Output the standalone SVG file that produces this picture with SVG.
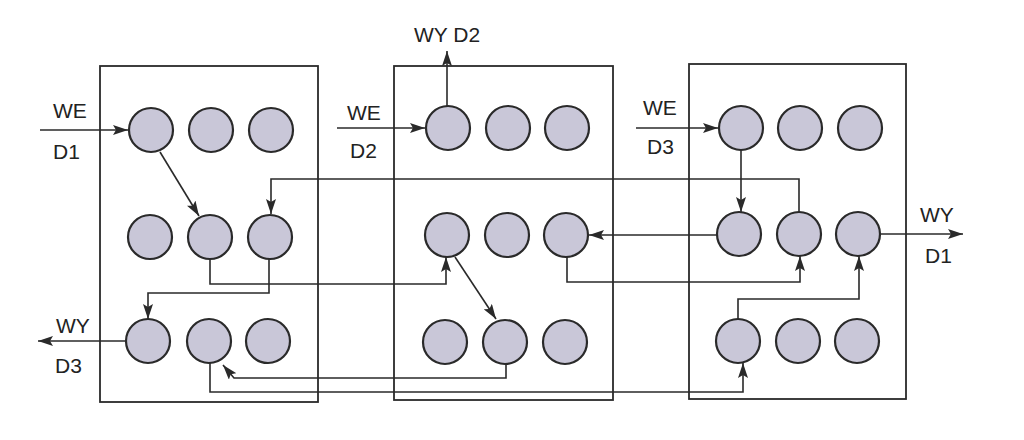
<svg xmlns="http://www.w3.org/2000/svg" width="1024" height="440" viewBox="0 0 1024 440">
<defs>
<style>
.box{fill:none;stroke:#2a2a2a;stroke-width:1.8}
.n{fill:#c9c7d8;stroke:#2a2a2a;stroke-width:2.2}
.c{fill:none;stroke:#2a2a2a;stroke-width:1.6;marker-end:url(#ah)}
.t{font-family:"Liberation Sans",Arial,sans-serif;font-size:21px;fill:#222}
</style>
<marker id="ah" markerUnits="userSpaceOnUse" markerWidth="16" markerHeight="10" refX="15" refY="5" orient="auto">
<path d="M0,0 L15,5 L0,10 L3,5 z" fill="#2a2a2a"/>
</marker>
</defs>
<rect width="1024" height="440" fill="#fff"/>
<g id="boxes">
<rect class="box" x="100" y="66" width="218" height="336"/>
<rect class="box" x="394" y="66" width="219" height="334"/>
<rect class="box" x="689" y="64" width="217" height="335"/>
</g>
<g id="connectors">
<path class="c" d="M40,130 L128,130"/>
<path class="c" d="M160,152 L199,216"/>
<path class="c" d="M799,212 L799,179 L271,179 L271,214"/>
<path class="c" d="M210,259 L210,284 L446,284 L446,257"/>
<path class="c" d="M269,259 L269,293 L148,293 L148,319"/>
<path class="c" d="M125,341 L38,341"/>
<path class="c" d="M337,128 L425,128"/>
<path class="c" d="M447,106 L447,51"/>
<path class="c" d="M455,257 L496,319"/>
<path class="c" d="M717,235 L589,235"/>
<path class="c" d="M567,257 L567,282 L800,282 L800,256"/>
<path class="c" d="M636,128 L718,128"/>
<path class="c" d="M741,150 L741,212"/>
<path class="c" d="M880,234 L963,234"/>
<path class="c" d="M738,319 L738,299 L859,299 L859,256"/>
<path class="c" d="M506,364 L506,378 L234,378 L223,365"/>
<path class="c" d="M210,363 L210,392 L743,392 L743,363"/>
</g>
<g id="box1-nodes">
<circle id="n1-11" class="n" cx="151" cy="130" r="22"/>
<circle id="n1-12" class="n" cx="211" cy="130" r="22"/>
<circle id="n1-13" class="n" cx="271" cy="130" r="22"/>
<circle id="n1-21" class="n" cx="150" cy="237" r="22"/>
<circle id="n1-22" class="n" cx="210" cy="237" r="22"/>
<circle id="n1-23" class="n" cx="270" cy="237" r="22"/>
<circle id="n1-31" class="n" cx="148" cy="341" r="22"/>
<circle id="n1-32" class="n" cx="209" cy="341" r="22"/>
<circle id="n1-33" class="n" cx="268" cy="341" r="22"/>
</g>
<g id="box2-nodes">
<circle id="n2-11" class="n" cx="448" cy="128" r="22"/>
<circle id="n2-12" class="n" cx="508" cy="128" r="22"/>
<circle id="n2-13" class="n" cx="567" cy="128" r="22"/>
<circle id="n2-21" class="n" cx="447" cy="235" r="22"/>
<circle id="n2-22" class="n" cx="507" cy="235" r="22"/>
<circle id="n2-23" class="n" cx="566" cy="235" r="22"/>
<circle id="n2-31" class="n" cx="445" cy="342" r="22"/>
<circle id="n2-32" class="n" cx="505" cy="342" r="22"/>
<circle id="n2-33" class="n" cx="565" cy="342" r="22"/>
</g>
<g id="box3-nodes">
<circle id="n3-11" class="n" cx="741" cy="128" r="22"/>
<circle id="n3-12" class="n" cx="800" cy="128" r="22"/>
<circle id="n3-13" class="n" cx="860" cy="128" r="22"/>
<circle id="n3-21" class="n" cx="739" cy="234" r="22"/>
<circle id="n3-22" class="n" cx="799" cy="234" r="22"/>
<circle id="n3-23" class="n" cx="858" cy="234" r="22"/>
<circle id="n3-31" class="n" cx="738" cy="341" r="22"/>
<circle id="n3-32" class="n" cx="798" cy="341" r="22"/>
<circle id="n3-33" class="n" cx="857" cy="341" r="22"/>
</g>
<g id="labels">
<text class="t" x="53" y="118">WE</text>
<text class="t" x="53" y="159">D1</text>
<text class="t" x="56" y="333">WY</text>
<text class="t" x="55" y="373">D3</text>
<text class="t" x="414" y="42">WY D2</text>
<text class="t" x="347" y="120">WE</text>
<text class="t" x="350" y="158">D2</text>
<text class="t" x="643" y="115">WE</text>
<text class="t" x="647" y="154">D3</text>
<text class="t" x="920" y="222">WY</text>
<text class="t" x="925" y="263">D1</text>
</g>
</svg>
